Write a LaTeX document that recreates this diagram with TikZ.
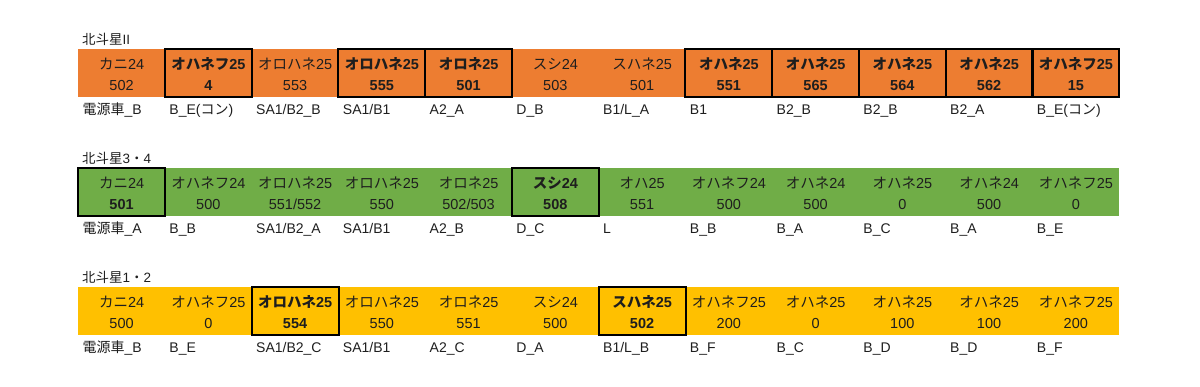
\documentclass[tikz,border=0pt]{standalone}
\usepackage{fontspec}
\setmainfont{Liberation Sans}
\newfontfamily\jpf{Noto Sans CJK JP}
\definecolor{bandorange}{HTML}{ED7D31}
\definecolor{bandgreen}{HTML}{70AD47}
\definecolor{bandyellow}{HTML}{FFC000}
\definecolor{inktext}{HTML}{1E1E1E}
\newcommand\cstrut{\rule[-2pt]{0pt}{17.5pt}}
\tikzset{
  cellbox/.style={rectangle, minimum width=86.75pt, minimum height=48pt, inner sep=0pt,
    anchor=north west, align=center, font=\fontsize{14.5}{20.5}\selectfont, text=inktext},
  boldcell/.style={font=\fontsize{14.5}{20.5}\selectfont\bfseries},
  plaincell/.style={},
  labeltext/.style={anchor=base west, inner sep=0pt, font=\fontsize{14}{16}\selectfont, text=inktext},
  titletext/.style={anchor=base west, inner sep=0pt, font=\fontsize{13.5}{16}\selectfont, text=inktext},
  cellborder/.style={draw=black, line width=2pt},
}
% #1 style, #2 name, #3 index, #4 top, #5 colour, #6 car, #7 number, #8 label
\newcommand\carcell[8]{%
  \node[cellbox, #1, fill=#5] (#2) at ({78+86.75*#3}, #4) {\cstrut#6\\\cstrut#7};
  \node[labeltext] (#2l) at ({82.5+86.75*#3}, {#4+65}) {#8};
}
\begin{document}
\begin{tikzpicture}[x=1pt, y=-1pt]
\useasboundingbox (0,0) rectangle (1200,386);
% ---------- Row A: 北斗星II ----------
\node[titletext] (titleA) at (82,44) {{\jpf 北斗星}II};
\carcell{plaincell}{A0}{0}{49}{bandorange}{{\jpf カニ}24}{502}{{\jpf 電源車}\_B}
\carcell{boldcell}{A1}{1}{49}{bandorange}{{\jpf オハネフ}25}{4}{B\_E({\jpf コン})}
\carcell{plaincell}{A2}{2}{49}{bandorange}{{\jpf オロハネ}25}{553}{SA1/B2\_B}
\carcell{boldcell}{A3}{3}{49}{bandorange}{{\jpf オロハネ}25}{555}{SA1/B1}
\carcell{boldcell}{A4}{4}{49}{bandorange}{{\jpf オロネ}25}{501}{A2\_A}
\carcell{plaincell}{A5}{5}{49}{bandorange}{{\jpf スシ}24}{503}{D\_B}
\carcell{plaincell}{A6}{6}{49}{bandorange}{{\jpf スハネ}25}{501}{B1/L\_A}
\carcell{boldcell}{A7}{7}{49}{bandorange}{{\jpf オハネ}25}{551}{B1}
\carcell{boldcell}{A8}{8}{49}{bandorange}{{\jpf オハネ}25}{565}{B2\_B}
\carcell{boldcell}{A9}{9}{49}{bandorange}{{\jpf オハネ}25}{564}{B2\_B}
\carcell{boldcell}{A10}{10}{49}{bandorange}{{\jpf オハネ}25}{562}{B2\_A}
\carcell{boldcell}{A11}{11}{49}{bandorange}{{\jpf オハネフ}25}{15}{B\_E({\jpf コン})}
\foreach \c in {A1,A3,A4,A7,A8,A9,A10,A11}
  \draw[cellborder] (\c.north west) rectangle (\c.south east);
% ---------- Row B: 北斗星3・4 ----------
\node[titletext] (titleB) at (82,163) {{\jpf 北斗星}3{\jpf ・}4};
\carcell{boldcell}{B0}{0}{168}{bandgreen}{{\mdseries{\jpf カニ}24}}{501}{{\jpf 電源車}\_A}
\carcell{plaincell}{B1}{1}{168}{bandgreen}{{\jpf オハネフ}24}{500}{B\_B}
\carcell{plaincell}{B2}{2}{168}{bandgreen}{{\jpf オロハネ}25}{551/552}{SA1/B2\_A}
\carcell{plaincell}{B3}{3}{168}{bandgreen}{{\jpf オロハネ}25}{550}{SA1/B1}
\carcell{plaincell}{B4}{4}{168}{bandgreen}{{\jpf オロネ}25}{502/503}{A2\_B}
\carcell{boldcell}{B5}{5}{168}{bandgreen}{{\jpf スシ}24}{508}{D\_C}
\carcell{plaincell}{B6}{6}{168}{bandgreen}{{\jpf オハ}25}{551}{L}
\carcell{plaincell}{B7}{7}{168}{bandgreen}{{\jpf オハネフ}24}{500}{B\_B}
\carcell{plaincell}{B8}{8}{168}{bandgreen}{{\jpf オハネ}24}{500}{B\_A}
\carcell{plaincell}{B9}{9}{168}{bandgreen}{{\jpf オハネ}25}{0}{B\_C}
\carcell{plaincell}{B10}{10}{168}{bandgreen}{{\jpf オハネ}24}{500}{B\_A}
\carcell{plaincell}{B11}{11}{168}{bandgreen}{{\jpf オハネフ}25}{0}{B\_E}
\foreach \c in {B0,B5}
  \draw[cellborder] (\c.north west) rectangle (\c.south east);
% ---------- Row C: 北斗星1・2 ----------
\node[titletext] (titleC) at (82,282) {{\jpf 北斗星}1{\jpf ・}2};
\carcell{plaincell}{C0}{0}{287}{bandyellow}{{\jpf カニ}24}{500}{{\jpf 電源車}\_B}
\carcell{plaincell}{C1}{1}{287}{bandyellow}{{\jpf オハネフ}25}{0}{B\_E}
\carcell{boldcell}{C2}{2}{287}{bandyellow}{{\jpf オロハネ}25}{554}{SA1/B2\_C}
\carcell{plaincell}{C3}{3}{287}{bandyellow}{{\jpf オロハネ}25}{550}{SA1/B1}
\carcell{plaincell}{C4}{4}{287}{bandyellow}{{\jpf オロネ}25}{551}{A2\_C}
\carcell{plaincell}{C5}{5}{287}{bandyellow}{{\jpf スシ}24}{500}{D\_A}
\carcell{boldcell}{C6}{6}{287}{bandyellow}{{\jpf スハネ}25}{502}{B1/L\_B}
\carcell{plaincell}{C7}{7}{287}{bandyellow}{{\jpf オハネフ}25}{200}{B\_F}
\carcell{plaincell}{C8}{8}{287}{bandyellow}{{\jpf オハネ}25}{0}{B\_C}
\carcell{plaincell}{C9}{9}{287}{bandyellow}{{\jpf オハネ}25}{100}{B\_D}
\carcell{plaincell}{C10}{10}{287}{bandyellow}{{\jpf オハネ}25}{100}{B\_D}
\carcell{plaincell}{C11}{11}{287}{bandyellow}{{\jpf オハネフ}25}{200}{B\_F}
\foreach \c in {C2,C6}
  \draw[cellborder] (\c.north west) rectangle (\c.south east);
\end{tikzpicture}
\end{document}
